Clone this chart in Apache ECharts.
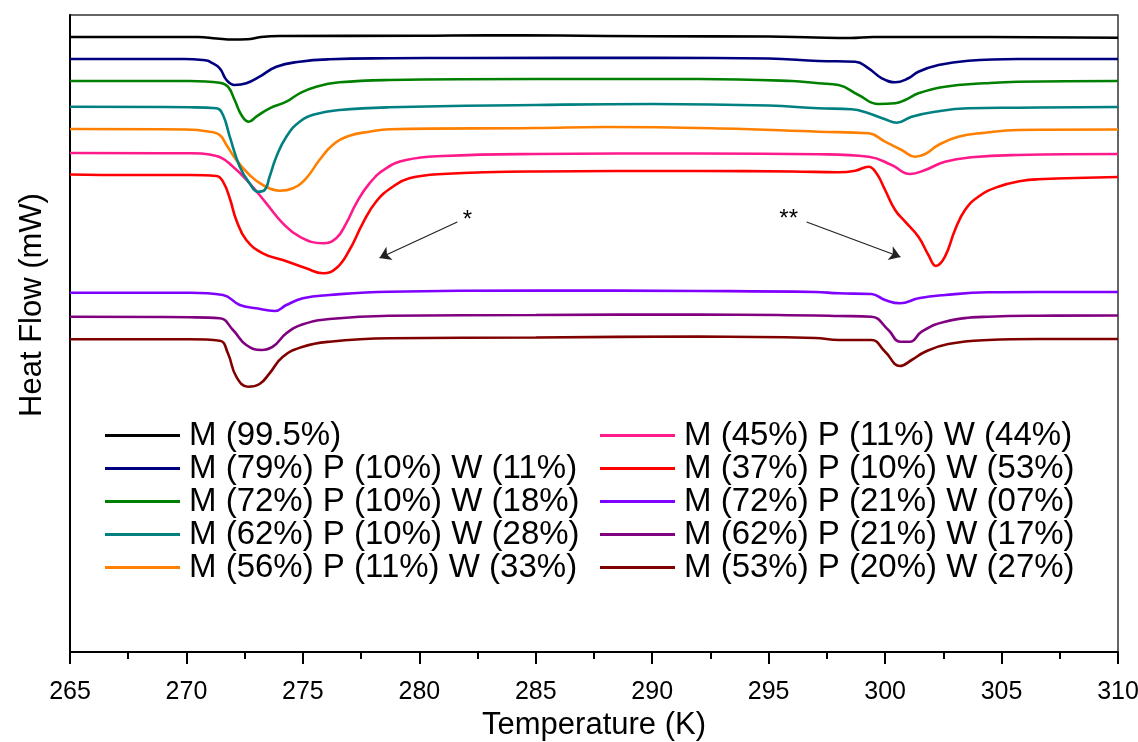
<!DOCTYPE html>
<html>
<head>
<meta charset="utf-8">
<script src="https://cdn.jsdelivr.net/npm/echarts@6/dist/echarts.min.js"></script>
<style>html,body{margin:0;padding:0;background:#fff;}#c{width:1138px;height:742px;}</style>
</head>
<body>
<div id="c"></div>
<script>
// Temperature (K), Heat flow (arbitrary mW offset units)
const xTicks = [265,270,275,280,285,290,295,300,305,310];
const names = [
  'M (99.5%)',
  'M (79%) P (10%) W (11%)',
  'M (72%) P (10%) W (18%)',
  'M (62%) P (10%) W (28%)',
  'M (56%) P (11%) W (33%)',
  'M (45%) P (11%) W (44%)',
  'M (37%) P (10%) W (53%)',
  'M (72%) P (21%) W (07%)',
  'M (62%) P (21%) W (17%)',
  'M (53%) P (20%) W (27%)'
];
const s1 = [[265,61.5],[268,61.5],[270.5,61.5],[271.3,61.35],[272.0,61.25],[272.6,61.27],[273.2,61.5],[274,61.6],[280,61.62],[283,61.67],[286,61.65],[290,61.57],[295,61.55],[297,61.45],[298.5,61.4],[299.5,61.5],[303,61.5],[310,61.42]];
const s2 = [[265,59.3],[269.9,59.3],[270.87,59.15],[271.0,59.03],[271.43,58.37],[271.72,57.2],[272.07,56.7],[272.57,56.87],[273.14,57.53],[273.86,58.53],[274.86,59.03],[276.14,59.27],[278.71,59.37],[282,59.4],[290,59.42],[295,59.35],[297.14,59.1],[298.72,59.03],[299.29,58.37],[299.86,57.37],[300.43,56.97],[301.0,57.37],[301.43,58.03],[302.29,58.7],[303.57,59.13],[305.71,59.3],[310,59.3]];
const s3 = [[265,57.1],[270.14,57.1],[271.43,56.93],[271.78,56.53],[272.07,55.2],[272.36,53.7],[272.68,53.03],[273.0,53.53],[273.57,54.37],[274.29,55.03],[274.86,55.87],[275.57,56.53],[276.57,56.97],[278.71,57.2],[285,57.3],[292,57.3],[296,57.1],[297.14,56.87],[298.0,56.7],[298.86,55.7],[299.71,54.8],[300.43,54.87],[300.86,55.2],[301.43,55.87],[302.57,56.53],[304.29,56.87],[305.71,57.03],[310,57.1]];
const s4 = [[265,54.53],[270.14,54.47],[271.29,54.37],[271.57,53.7],[271.86,51.53],[272.29,48.53],[272.71,46.87],[273.07,46.03],[273.36,46.2],[273.57,47.53],[273.86,49.53],[274.29,51.53],[274.86,53.03],[275.57,53.8],[276.57,54.2],[278.71,54.47],[285,54.7],[290,54.8],[295,54.65],[297.14,54.37],[298.56,54.27],[299.29,53.87],[300.0,53.27],[300.5,52.93],[301.14,53.53],[302.14,54.03],[303.57,54.37],[305.71,54.43],[310,54.5]];
const s5 = [[265,52.3],[270.0,52.25],[271.0,52.03],[271.43,51.7],[271.72,50.7],[272.14,49.2],[272.71,47.7],[273.28,46.7],[274.0,46.13],[274.57,46.37],[275.14,47.37],[275.71,49.2],[276.28,50.7],[277.0,51.63],[277.86,52.03],[278.71,52.27],[285,52.4],[288,52.5],[293,52.35],[297.14,52.03],[299.29,51.87],[300.0,51.03],[300.71,50.2],[301.28,49.53],[301.72,49.8],[302.29,50.7],[303.14,51.53],[304.29,51.93],[305.71,52.2],[310,52.25]];
const s6 = [[265,49.9],[270.14,49.87],[271.29,49.6],[272.0,48.53],[272.71,46.87],[273.43,44.87],[274.14,42.87],[274.86,41.53],[275.86,40.87],[276.43,41.37],[276.86,42.87],[277.29,44.87],[277.86,46.87],[278.57,48.37],[279.43,49.2],[281,49.6],[285,49.8],[292,49.85],[297.14,49.77],[299.29,49.53],[300.28,48.7],[301.07,47.8],[301.72,48.2],[302.57,49.03],[303.71,49.47],[305.71,49.7],[310,49.8]];
const s7 = [[265,47.75],[267.57,47.7],[270.14,47.7],[271.29,47.6],[271.57,47.03],[271.86,45.37],[272.14,43.2],[272.57,41.2],[273.28,39.87],[274.14,39.2],[275.14,38.37],[275.86,37.87],[276.43,38.37],[277.0,40.2],[277.57,42.87],[278.14,45.03],[278.86,46.53],[279.57,47.37],[281,47.8],[285,48.05],[292,48.1],[296,48.05],[298.0,47.97],[298.72,48.13],[299.29,48.53],[299.63,47.87],[300.0,46.2],[300.43,44.2],[300.86,43.03],[301.43,41.53],[301.86,39.7],[302.18,38.6],[302.57,39.53],[303.0,42.2],[303.43,44.2],[304.0,45.53],[304.86,46.53],[305.84,47.1],[306.57,47.27],[310,47.5]];
const s8 = [[265,35.93],[270.14,35.93],[271.57,35.7],[272.29,34.7],[273.0,34.37],[273.79,34.1],[274.29,34.7],[275.0,35.37],[276.14,35.7],[278.71,36.03],[285,36.15],[292,36.1],[297,36.0],[298.0,35.87],[299.41,35.8],[300.0,35.2],[300.64,34.87],[301.43,35.37],[302.57,35.7],[304.43,35.97],[306.57,36.0],[310,36.0]];
const s9 = [[265,33.53],[270.14,33.47],[271.43,33.37],[272.0,32.2],[272.57,30.7],[273.22,30.2],[273.71,30.53],[274.29,31.87],[275.0,32.77],[276.14,33.3],[278.71,33.63],[285,33.7],[292,33.75],[297,33.65],[298.0,33.6],[299.41,33.53],[300.14,32.2],[300.64,31.03],[301.07,31.03],[301.57,32.03],[302.57,33.03],[304.43,33.53],[306.57,33.63],[310,33.65]];
const s10 = [[265,31.27],[270.14,31.27],[271.43,31.13],[271.78,29.87],[272.14,27.53],[272.64,26.53],[273.14,26.8],[273.57,27.87],[274.14,29.53],[275.0,30.53],[276.14,31.03],[278.71,31.37],[285,31.45],[292,31.55],[297,31.4],[298.0,31.2],[299.41,31.2],[300.0,30.03],[300.64,28.6],[301.14,29.2],[301.72,30.03],[302.71,30.8],[304.43,31.2],[306.57,31.3],[310,31.3]];
const allData = [s1,s2,s3,s4,s5,s6,s7,s8,s9,s10];
// annotation arrows (data coords) and labels
const arrow1 = [[281.63,43.0],[278.29,39.4]];
const arrow2 = [[296.63,43.0],[300.66,39.5]];
const star1 = [282.06,43.2];
const star2 = [295.86,43.3];

const colors = ['#000000','#00007f','#008000','#008080','#ff8000','#ff1a8c','#ff0000','#8000ff','#800080','#800000'];
const FONT = 'Arial, "Liberation Sans", sans-serif';

const series = allData.map((d,i)=>({
  name: names[i], type:'line', data:d, showSymbol:false, symbol:'none',
  smooth:0.45,
  lineStyle:{color:colors[i], width:2.6}, itemStyle:{color:colors[i]},
  z: 10-i
}));
series[0].markLine = {
  silent:true, symbol:['none','arrow'], symbolSize:11,
  label:{show:false},
  lineStyle:{color:'#222', width:1.2, type:'solid'},
  data:[[{coord:arrow1[0]},{coord:arrow1[1]}],[{coord:arrow2[0]},{coord:arrow2[1]}]]
};
series[0].markPoint = {
  silent:true, symbol:'circle', symbolSize:0,
  label:{show:true, position:'inside', color:'#000', fontSize:24, fontFamily:FONT},
  data:[{coord:star1, value:'*', label:{formatter:'*'}},{coord:star2, value:'**', label:{formatter:'**'}}]
};

const legendCommon = {
  orient:'vertical', icon:'rect', itemWidth:75, itemHeight:3, itemGap:0, padding:0,
  textStyle:{fontSize:33, fontFamily:FONT, color:'#000', lineHeight:33, padding:[0,0,0,4]},
  selectedMode:false
};

const chart = echarts.init(document.getElementById('c'), null, {renderer:'canvas'});
chart.setOption({
  animation:false,
  backgroundColor:'#fff',
  grid:{left:70, right:20, top:15, bottom:90, show:true, borderColor:'#333', borderWidth:1.5,
        containLabel:false, outerBoundsMode:'none'},
  legend:[
    Object.assign({left:105, top:419, data:names.slice(0,5)}, legendCommon),
    Object.assign({left:600, top:419, data:names.slice(5)}, legendCommon)
  ],
  xAxis:{
    type:'value', min:265, max:310, interval:5,
    name:'Temperature (K)', nameLocation:'middle', nameGap:50,
    nameTextStyle:{fontSize:31, fontFamily:FONT, color:'#000'},
    axisLine:{show:true, lineStyle:{color:'#000', width:2}},
    axisTick:{show:true, inside:false, length:12, lineStyle:{color:'#000', width:2}},
    minorTick:{show:true, splitNumber:2, length:7, lineStyle:{color:'#000', width:2}},
    axisLabel:{fontSize:25, fontFamily:FONT, color:'#000', margin:28, hideOverlap:false},
    splitLine:{show:false}
  },
  yAxis:{
    type:'value', min:0, max:63.7,
    axisLine:{show:true, lineStyle:{color:'#000', width:2}},
    axisTick:{show:false}, axisLabel:{show:false}, splitLine:{show:false}
  },
  graphic:[{
    type:'text', x:32, y:305, rotation:Math.PI/2,
    style:{text:'Heat Flow (mW)', font:'31px ' + FONT, fill:'#000', textAlign:'center', textVerticalAlign:'middle'}
  }],
  series: series
});
</script>
</body>
</html>
